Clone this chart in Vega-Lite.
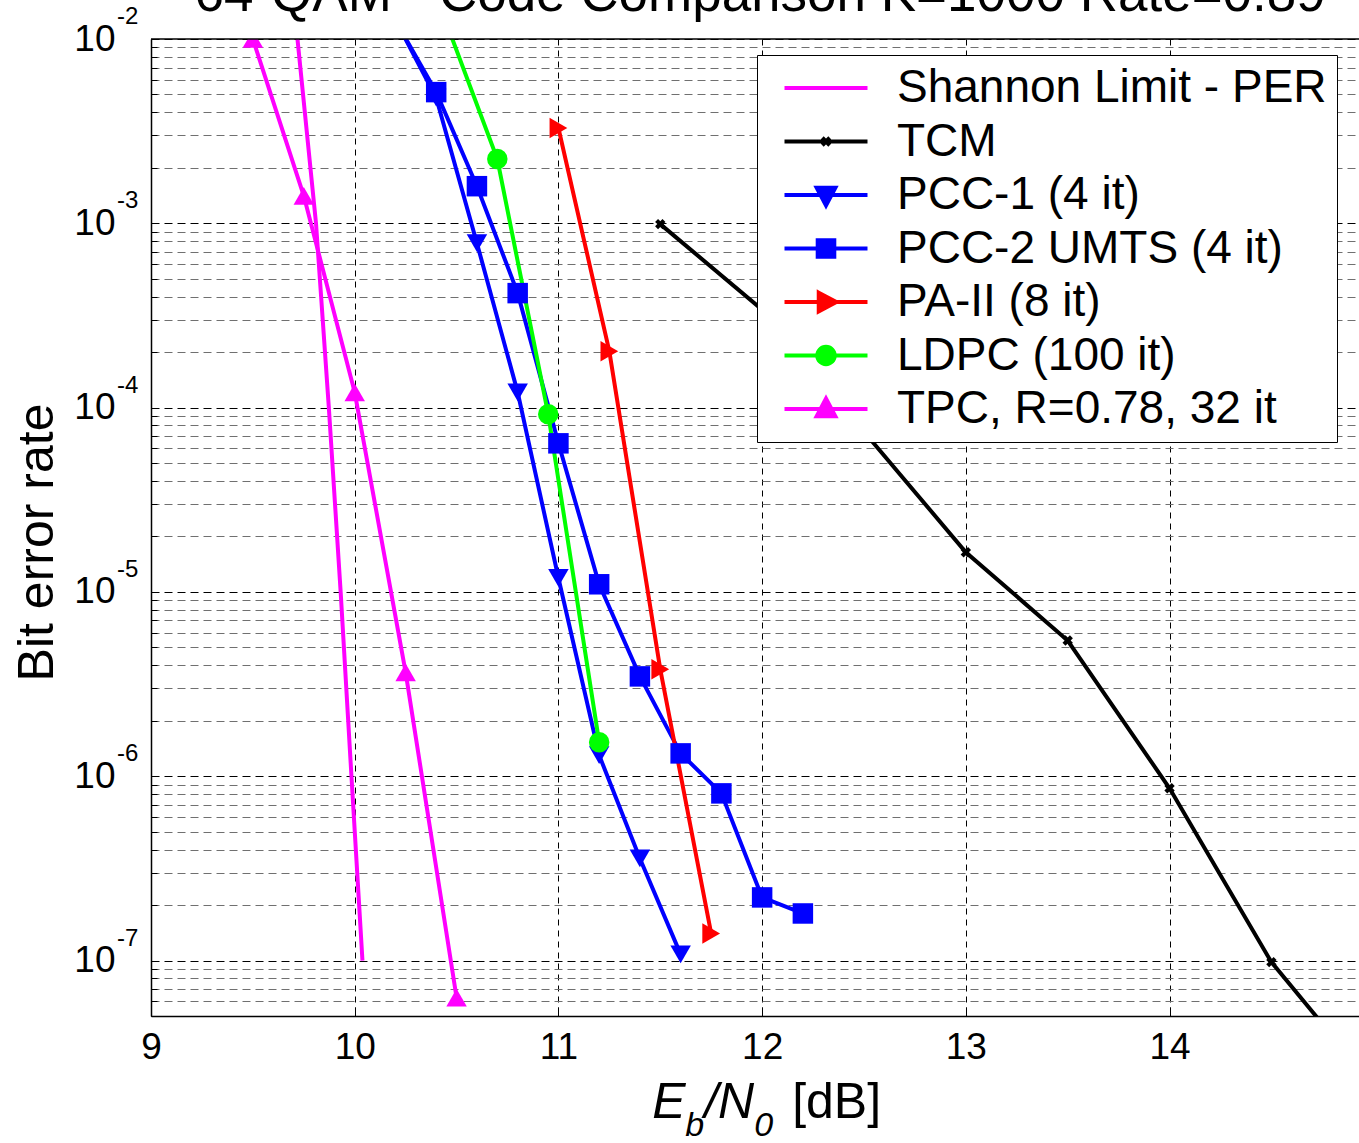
{
  "$schema": "https://vega.github.io/schema/vega-lite/v6.json",
  "width": 1208,
  "height": 977,
  "autosize": {"type": "none"},
  "padding": {"left": 151, "top": 39, "right": 0, "bottom": 127},
  "background": "white",
  "config": {
    "font": "Liberation Sans",
    "view": {"stroke": null}
  },
  "datasets": {
    "curves": [
      {"s": "Shannon Limit - PER", "x": 9.719, "y": 1e-2},
      {"s": "Shannon Limit - PER", "x": 9.81, "y": 1e-3},
      {"s": "Shannon Limit - PER", "x": 9.873, "y": 1e-4},
      {"s": "Shannon Limit - PER", "x": 9.931, "y": 1e-5},
      {"s": "Shannon Limit - PER", "x": 9.984, "y": 1e-6},
      {"s": "Shannon Limit - PER", "x": 10.038, "y": 1e-7},
      {"s": "TCM", "x": 11.5, "y": 9.9e-4},
      {"s": "TCM", "x": 12.0, "y": 3.4e-4},
      {"s": "TCM", "x": 12.5, "y": 7.4e-5},
      {"s": "TCM", "x": 13.0, "y": 1.64e-5},
      {"s": "TCM", "x": 13.5, "y": 5.45e-6},
      {"s": "TCM", "x": 14.0, "y": 8.6e-7},
      {"s": "TCM", "x": 14.5, "y": 9.8e-8},
      {"s": "TCM", "x": 15.0, "y": 2.1e-8},
      {"s": "PCC-1 (4 it)", "x": 10.2, "y": 1.27e-2},
      {"s": "PCC-1 (4 it)", "x": 10.4, "y": 4.8e-3},
      {"s": "PCC-1 (4 it)", "x": 10.6, "y": 7.8e-4},
      {"s": "PCC-1 (4 it)", "x": 10.8, "y": 1.21e-4},
      {"s": "PCC-1 (4 it)", "x": 11.0, "y": 1.19e-5},
      {"s": "PCC-1 (4 it)", "x": 11.2, "y": 1.3e-6},
      {"s": "PCC-1 (4 it)", "x": 11.4, "y": 3.58e-7},
      {"s": "PCC-1 (4 it)", "x": 11.6, "y": 1.08e-7},
      {"s": "PCC-2 UMTS (4 it)", "x": 10.2, "y": 1.26e-2},
      {"s": "PCC-2 UMTS (4 it)", "x": 10.4, "y": 5.15e-3},
      {"s": "PCC-2 UMTS (4 it)", "x": 10.6, "y": 1.59e-3},
      {"s": "PCC-2 UMTS (4 it)", "x": 10.8, "y": 4.18e-4},
      {"s": "PCC-2 UMTS (4 it)", "x": 11.0, "y": 6.4e-5},
      {"s": "PCC-2 UMTS (4 it)", "x": 11.2, "y": 1.1e-5},
      {"s": "PCC-2 UMTS (4 it)", "x": 11.4, "y": 3.48e-6},
      {"s": "PCC-2 UMTS (4 it)", "x": 11.6, "y": 1.33e-6},
      {"s": "PCC-2 UMTS (4 it)", "x": 11.8, "y": 8.07e-7},
      {"s": "PCC-2 UMTS (4 it)", "x": 12.0, "y": 2.2e-7},
      {"s": "PCC-2 UMTS (4 it)", "x": 12.2, "y": 1.8e-7},
      {"s": "PA-II (8 it)", "x": 11.0, "y": 3.29e-3},
      {"s": "PA-II (8 it)", "x": 11.25, "y": 2.02e-4},
      {"s": "PA-II (8 it)", "x": 11.5, "y": 3.8e-6},
      {"s": "PA-II (8 it)", "x": 11.75, "y": 1.4e-7},
      {"s": "LDPC (100 it)", "x": 10.45, "y": 1.22e-2},
      {"s": "LDPC (100 it)", "x": 10.7, "y": 2.23e-3},
      {"s": "LDPC (100 it)", "x": 10.95, "y": 9.2e-5},
      {"s": "LDPC (100 it)", "x": 11.2, "y": 1.53e-6},
      {"s": "TPC, R=0.78, 32 it", "x": 9.5, "y": 1e-2},
      {"s": "TPC, R=0.78, 32 it", "x": 9.75, "y": 1.41e-3},
      {"s": "TPC, R=0.78, 32 it", "x": 10.0, "y": 1.21e-4},
      {"s": "TPC, R=0.78, 32 it", "x": 10.25, "y": 3.66e-6},
      {"s": "TPC, R=0.78, 32 it", "x": 10.5, "y": 6.3e-8}
    ],
    "decades": [
      {"e": "-2", "v": 1e-2},
      {"e": "-3", "v": 1e-3},
      {"e": "-4", "v": 1e-4},
      {"e": "-5", "v": 1e-5},
      {"e": "-6", "v": 1e-6},
      {"e": "-7", "v": 1e-7}
    ],
    "xtitle": [
      {"part": "E"},
      {"part": "b"},
      {"part": "/N"},
      {"part": "0"},
      {"part": "[dB]"}
    ],
    "charttitle": [
      {"t": "64-QAM - Code Comparison K=1000 Rate=0.89"}
    ]
  },
  "layer": [
    {
      "data": {"name": "curves"},
      "mark": {"type": "line", "strokeWidth": 4, "clip": true},
      "encoding": {
        "x": {
          "field": "x", "type": "quantitative",
          "scale": {"domain": [9, 14.93], "nice": false, "zero": false},
          "axis": {
            "values": [9, 10, 11, 12, 13, 14],
            "format": "d",
            "title": null,
            "grid": true, "gridColor": "#000000", "gridDash": [6, 5], "gridWidth": 1,
            "ticks": true, "tickSize": -9, "tickColor": "#000000", "tickWidth": 1,
            "domain": true, "domainColor": "#000000", "domainWidth": 1.5,
            "labelFontSize": 37, "labelColor": "#000000", "labelPadding": 22,
            "labelFlush": false, "labelOverlap": false
          }
        },
        "y": {
          "field": "y", "type": "quantitative",
          "scale": {"type": "log", "domain": [5e-8, 1e-2], "nice": false},
          "axis": {
            "values": [5e-8, 6e-8, 7e-8, 8e-8, 9e-8,
                       1e-7, 2e-7, 3e-7, 4e-7, 5e-7, 6e-7, 7e-7, 8e-7, 9e-7,
                       1e-6, 2e-6, 3e-6, 4e-6, 5e-6, 6e-6, 7e-6, 8e-6, 9e-6,
                       1e-5, 2e-5, 3e-5, 4e-5, 5e-5, 6e-5, 7e-5, 8e-5, 9e-5,
                       1e-4, 2e-4, 3e-4, 4e-4, 5e-4, 6e-4, 7e-4, 8e-4, 9e-4,
                       1e-3, 2e-3, 3e-3, 4e-3, 5e-3, 6e-3, 7e-3, 8e-3, 9e-3, 1e-2],
            "labelExpr": "abs(log(datum.value)/LN10 - round(log(datum.value)/LN10)) < 0.001 ? '10' : ''",
            "labelOverlap": false,
            "grid": true,
            "gridColor": {"condition": {"test": "abs(log(datum.value)/LN10 - round(log(datum.value)/LN10)) < 0.001", "value": "#000000"}, "value": "#707070"},
            "gridDash": [8, 5], "gridWidth": 1,
            "ticks": true, "tickSize": -6, "tickColor": "#000000", "tickWidth": 1,
            "domain": true, "domainColor": "#000000", "domainWidth": 1.5,
            "labelFontSize": 37, "labelColor": "#000000", "labelPadding": 42,
            "labelBaseline": "middle",
            "title": "Bit error rate",
            "titleFontSize": 50, "titleFontWeight": "normal", "titleColor": "#000000",
            "titleX": -114, "titleY": 503, "titleAngle": 270,
            "titleBaseline": "middle", "titleAlign": "center"
          }
        },
        "color": {
          "field": "s", "type": "nominal",
          "scale": {
            "domain": ["Shannon Limit - PER", "TCM", "PCC-1 (4 it)", "PCC-2 UMTS (4 it)", "PA-II (8 it)", "LDPC (100 it)", "TPC, R=0.78, 32 it"],
            "range": ["#ff00ff", "#000000", "#0000ff", "#0000ff", "#ff0000", "#00ff00", "#ff00ff"]
          },
          "legend": {
            "title": null,
            "orient": "none",
            "legendX": 606,
            "legendY": 16,
            "padding": 10,
            "fillColor": "white",
            "strokeColor": "#000000",
            "labelFontSize": 46,
            "labelColor": "#000000",
            "labelLimit": 800,
            "labelOffset": 48,
            "symbolSize": 1722,
            "symbolOffset": 36,
            "symbolStrokeWidth": 4,
            "rowPadding": 7.5,
            "encode": {
              "legend": {
                "update": {
                  "width": {"value": 599}
                }
              },
              "symbols": {
                "update": {
                  "shape": {"signal": "datum.value === 'TCM' ? 'M-2,0H2M-0.18,-0.18L0.18,0.18M-0.18,0.18L0.18,-0.18' : datum.value === 'PCC-1 (4 it)' ? 'M-2,0H2M-0.45,-0.35L0.45,-0.35L0,0.5Z' : datum.value === 'PCC-2 UMTS (4 it)' ? 'M-2,0H2M-0.4,-0.4H0.4V0.4H-0.4Z' : datum.value === 'PA-II (8 it)' ? 'M-2,0H2M-0.35,-0.45L0.5,0L-0.35,0.45Z' : datum.value === 'LDPC (100 it)' ? 'M-2,0H2M-0.42,0A0.42,0.42,0,1,0,0.42,0A0.42,0.42,0,1,0,-0.42,0Z' : datum.value === 'TPC, R=0.78, 32 it' ? 'M-2,0H2M-0.45,0.35L0.45,0.35L0,-0.5Z' : 'M-2,0H2'"},
                  "fill": {"scale": "color", "field": "value"},
                  "stroke": {"scale": "color", "field": "value"},
                  "strokeWidth": {"value": 4},
                  "size": {"value": 1722},
                  "opacity": {"value": 1}
                }
              }
            }
          }
        }
      }
    },
    {
      "data": {"name": "curves"},
      "transform": [{"filter": "datum.s !== 'Shannon Limit - PER' && datum.s !== 'TCM'"}],
      "mark": {"type": "point", "filled": true, "size": 420, "opacity": 1, "strokeWidth": 1, "clip": true},
      "encoding": {
        "x": {"field": "x", "type": "quantitative"},
        "y": {"field": "y", "type": "quantitative"},
        "color": {"field": "s", "type": "nominal"},
        "shape": {
          "field": "s", "type": "nominal",
          "scale": {
            "domain": ["PCC-1 (4 it)", "PCC-2 UMTS (4 it)", "PA-II (8 it)", "LDPC (100 it)", "TPC, R=0.78, 32 it"],
            "range": ["triangle-down", "square", "triangle-right", "circle", "triangle-up"]
          },
          "legend": null
        }
      }
    },
    {
      "data": {"name": "curves"},
      "transform": [{"filter": "datum.s === 'TCM'"}],
      "mark": {"type": "point", "shape": "cross", "angle": 45, "filled": true, "size": 110, "color": "#000000", "opacity": 1, "clip": true},
      "encoding": {
        "x": {"field": "x", "type": "quantitative"},
        "y": {"field": "y", "type": "quantitative"}
      }
    },
    {
      "data": {"values": [{"edge": "top"}]},
      "mark": {"type": "rule", "color": "#000000", "strokeWidth": 1.5},
      "encoding": {
        "y": {"datum": 0.01, "type": "quantitative"}
      }
    },
    {
      "data": {"name": "charttitle"},
      "mark": {"type": "text", "align": "center", "baseline": "alphabetic", "dy": -28, "fontSize": 53, "color": "#000000"},
      "encoding": {
        "x": {"datum": 11.99, "type": "quantitative"},
        "y": {"datum": 0.01, "type": "quantitative"},
        "text": {"field": "t"}
      }
    },
    {
      "data": {"name": "decades"},
      "mark": {"type": "text", "align": "left", "baseline": "alphabetic", "dx": -34, "dy": -15, "fontSize": 24, "color": "#000000"},
      "encoding": {
        "x": {"datum": 9, "type": "quantitative"},
        "y": {"field": "v", "type": "quantitative"},
        "text": {"field": "e"}
      }
    },
    {
      "data": {"name": "xtitle"},
      "transform": [{"filter": "datum.part === 'E'"}],
      "mark": {"type": "text", "align": "left", "baseline": "alphabetic", "dx": -110, "dy": 102, "fontSize": 50, "fontStyle": "italic", "color": "#000000"},
      "encoding": {
        "x": {"datum": 12, "type": "quantitative"},
        "y": {"datum": 5e-8, "type": "quantitative"},
        "text": {"field": "part"}
      }
    },
    {
      "data": {"name": "xtitle"},
      "transform": [{"filter": "datum.part === 'b'"}],
      "mark": {"type": "text", "align": "left", "baseline": "alphabetic", "dx": -77, "dy": 120, "fontSize": 34, "fontStyle": "italic", "color": "#000000"},
      "encoding": {
        "x": {"datum": 12, "type": "quantitative"},
        "y": {"datum": 5e-8, "type": "quantitative"},
        "text": {"field": "part"}
      }
    },
    {
      "data": {"name": "xtitle"},
      "transform": [{"filter": "datum.part === '/N'"}],
      "mark": {"type": "text", "align": "left", "baseline": "alphabetic", "dx": -58, "dy": 102, "fontSize": 50, "fontStyle": "italic", "color": "#000000"},
      "encoding": {
        "x": {"datum": 12, "type": "quantitative"},
        "y": {"datum": 5e-8, "type": "quantitative"},
        "text": {"field": "part"}
      }
    },
    {
      "data": {"name": "xtitle"},
      "transform": [{"filter": "datum.part === '0'"}],
      "mark": {"type": "text", "align": "left", "baseline": "alphabetic", "dx": -8, "dy": 120, "fontSize": 34, "fontStyle": "italic", "color": "#000000"},
      "encoding": {
        "x": {"datum": 12, "type": "quantitative"},
        "y": {"datum": 5e-8, "type": "quantitative"},
        "text": {"field": "part"}
      }
    },
    {
      "data": {"name": "xtitle"},
      "transform": [{"filter": "datum.part === '[dB]'"}],
      "mark": {"type": "text", "align": "left", "baseline": "alphabetic", "dx": 30, "dy": 102, "fontSize": 50, "color": "#000000"},
      "encoding": {
        "x": {"datum": 12, "type": "quantitative"},
        "y": {"datum": 5e-8, "type": "quantitative"},
        "text": {"field": "part"}
      }
    }
  ]
}
